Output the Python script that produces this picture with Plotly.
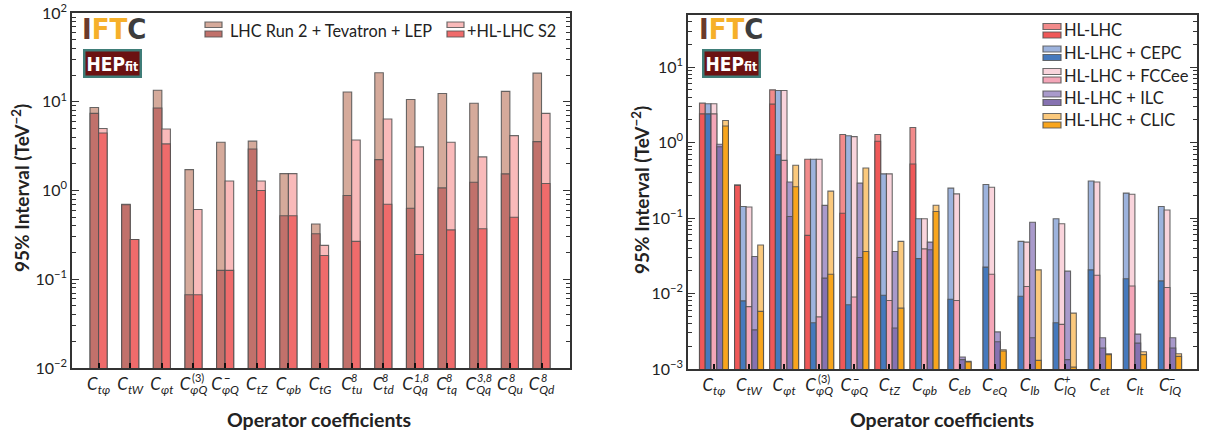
import plotly.graph_objects as go
from plotly.subplots import make_subplots

FONT = "Lato"

# ---------------- Left panel data ----------------
left_cats = ["Ctphi", "CtW", "Cphit", "CphiQ3", "CphiQm", "CtZ", "Cphib", "CtG",
             "Ctu8", "Ctd8", "CQq18", "Ctq8", "CQq38", "CQu8", "CQd8"]
left_sub = ["tφ", "tW", "φt", "φQ", "φQ", "tZ", "φb", "tG",
            "tu", "td", "Qq", "tq", "Qq", "Qu", "Qd"]
left_sup = ["", "", "", "(3)", "−", "", "", "", "8", "8", "1,8", "8", "3,8", "8", "8"]

lhc_light = [8.6, 0.70, 13.5, 1.72, 3.5, 3.6, 1.55, 0.42, 12.9, 21.2, 10.6, 12.4, 9.6, 13.1, 21.0]
lhc_dark = [7.4, 0.69, 8.5, 0.067, 0.126, 2.94, 0.52, 0.326, 0.88, 2.23, 0.63, 1.07, 1.24, 1.54, 3.55]
hls2_light = [5.0, 0.28, 4.93, 0.61, 1.28, 1.28, 1.55, 0.241, 3.7, 6.4, 3.1, 3.5, 2.39, 4.15, 7.4]
hls2_dark = [4.45, 0.28, 3.35, 0.067, 0.126, 1.0, 0.52, 0.185, 0.267, 0.70, 0.19, 0.36, 0.37, 0.50, 1.2]

# ---------------- Right panel data ----------------
right_cats = ["Ctphi", "CtW", "Cphit", "CphiQ3", "CphiQm", "CtZ", "Cphib",
              "Ceb", "CeQ", "Clb", "ClQp", "Cet", "Clt", "ClQm"]
right_sub = ["tφ", "tW", "φt", "φQ", "φQ", "tZ", "φb", "eb", "eQ", "lb", "lQ", "et", "lt", "lQ"]
right_sup = ["", "", "", "(3)", "−", "", "", "", "", "", "+", "", "", "−"]

hl_light = [3.33, 0.275, 4.99, 0.60, 1.28, 1.28, 1.58, None, None, None, None, None, None, None]
hl_dark = [2.4, 0.27, 3.23, 0.059, 0.116, 1.04, 0.52, None, None, None, None, None, None, None]
cepc_light = [3.26, 0.142, 4.9, 0.60, 1.23, 0.385, 0.098, 0.249, 0.278, 0.049, 0.098, 0.31, 0.214, 0.142]
cepc_dark = [2.4, 0.0080, 0.69, 0.0041, 0.0071, 0.0095, 0.029, 0.0084, 0.0224, 0.0092, 0.0041, 0.0206, 0.0157, 0.0147]
fcc_light = [3.26, 0.14, 4.9, 0.60, 1.2, 0.385, 0.098, 0.209, 0.256, 0.048, 0.084, 0.30, 0.207, 0.128]
fcc_dark = [2.4, 0.0067, 0.58, 0.0049, 0.0090, 0.0081, 0.039, 0.0081, 0.018, 0.0124, 0.0039, 0.0175, 0.0126, 0.0120]
ilc_light = [0.95, 0.031, 0.30, 0.147, 0.29, 0.036, 0.048, 0.00144, 0.0031, 0.088, 0.0198, 0.0026, 0.0029, 0.0026]
ilc_dark = [0.88, 0.0033, 0.105, 0.016, 0.030, 0.0035, 0.038, 0.00133, 0.0023, 0.0026, 0.00133, 0.0019, 0.0022, 0.0019]
clic_light = [1.96, 0.044, 0.50, 0.227, 0.46, 0.049, 0.148, 0.00126, 0.0018, 0.0206, 0.0055, 0.00159, 0.00169, 0.00159]
clic_dark = [1.66, 0.0058, 0.26, 0.018, 0.036, 0.0064, 0.122, 0.00124, 0.00173, 0.0013, 0.00106, 0.00155, 0.00155, 0.00147]

left_names = ["LHC Run 2 + Tevatron + LEP", "+HL-LHC S2"]
right_names = ["HL-LHC", "HL-LHC + CEPC", "HL-LHC + FCCee", "HL-LHC + ILC", "HL-LHC + CLIC"]

# y tick decades
left_decades = [-2, -1, 0, 1, 2]
right_decades = [-3, -2, -1, 0, 1]

left_colors = [("#d5aa9b", "#c1716b"), ("#f9baba", "#ef6b6b")]
right_colors = [("#f28b8b", "#ef5858"), ("#9db3dd", "#4579bd"), ("#f9d4dc", "#f4a6b8"),
                ("#a99acb", "#8672b1"), ("#fbc97d", "#f8a51d")]

OUTLINE = dict(color="rgba(80,80,80,0.85)", width=1.1)

fig = make_subplots(rows=1, cols=2)

# ---- left panel bars ----
LW = 0.27
left_series = [(lhc_light, lhc_dark), (hls2_light, hls2_dark)]
for k, (light, dark) in enumerate(left_series):
    off = -LW + k * LW
    for vals, col in ((light, left_colors[k][0]), (dark, left_colors[k][1])):
        fig.add_trace(go.Bar(x=left_cats, y=vals, width=LW, offset=off,
                             marker=dict(color=col, line=OUTLINE),
                             showlegend=False, hoverinfo="x+y"), row=1, col=1)

# ---- right panel bars ----
RW = 0.165
right_series = [(hl_light, hl_dark), (cepc_light, cepc_dark), (fcc_light, fcc_dark),
                (ilc_light, ilc_dark), (clic_light, clic_dark)]
n_present = [sum(1 for s in right_series if s[0][i] is not None) for i in range(len(right_cats))]
for k, (light, dark) in enumerate(right_series):
    offs = []
    for i in range(len(right_cats)):
        idx = sum(1 for s in right_series[:k] if s[0][i] is not None)
        offs.append(-n_present[i] * RW / 2 + idx * RW)
    for vals, col in ((light, right_colors[k][0]), (dark, right_colors[k][1])):
        fig.add_trace(go.Bar(x=right_cats, y=vals, width=RW, offset=offs,
                             marker=dict(color=col, line=OUTLINE),
                             showlegend=False, hoverinfo="x+y"), row=1, col=2)


def ctext(sub):
    return "<i>C</i><sub><i>%s</i></sub>" % sub


def dec_label(p):
    return "10<sup>%s</sup>" % (("−%d" % -p) if p < 0 else str(p))


def minor_vals(decs):
    out = []
    for p in decs:
        for m in range(2, 10):
            out.append(m * 10 ** p)
    return out


AXC = "#333333"
xcommon = dict(type="category", showgrid=False, zeroline=False, showline=True, linecolor=AXC,
               linewidth=1.5, mirror=True, ticks="inside", ticklen=5, tickwidth=1.5,
               tickcolor="#111", automargin=False,
               tickfont=dict(family=FONT, size=17, color="#222"))
ycommon = dict(type="log", showgrid=False, zeroline=False, showline=True, linecolor=AXC,
               linewidth=1.5, mirror="ticks", ticks="inside", ticklen=7, tickwidth=1.2,
               tickcolor="#333", tickmode="array", automargin=False,
               tickfont=dict(family=FONT, size=16, color="#222"))

fig.update_xaxes(xcommon, row=1, col=1)
fig.update_xaxes(xcommon, row=1, col=2)
fig.update_yaxes(ycommon, row=1, col=1)
fig.update_yaxes(ycommon, row=1, col=2)

fig.update_layout(
    xaxis=dict(domain=[72 / 1220, 570 / 1220], range=[-0.84, 14.9],
               tickvals=left_cats, ticktext=[ctext(s) for s in left_sub]),
    yaxis=dict(domain=[64 / 432, 419 / 432], range=[-2, 2],
               tickvals=[10 ** p for p in left_decades], ticktext=[dec_label(p) for p in left_decades],
               minor=dict(ticks="inside", ticklen=4, tickwidth=1, tickcolor="#333",
                          tickmode="array", tickvals=minor_vals(left_decades))),
    xaxis2=dict(domain=[688 / 1220, 1197 / 1220], range=[-0.74, 13.77],
                tickvals=right_cats, ticktext=[ctext(s) for s in right_sub]),
    yaxis2=dict(domain=[63 / 432, 417 / 432], range=[-3, 1.69],
                tickvals=[10 ** p for p in right_decades], ticktext=[dec_label(p) for p in right_decades],
                minor=dict(ticks="inside", ticklen=4, tickwidth=1, tickcolor="#333",
                           tickmode="array", tickvals=minor_vals(right_decades))),
)

ann = []
shapes = []

# superscripts above subscripts in tick labels
for cats, sups, xr, yr in ((left_cats, left_sup, "x", "y domain"), (right_cats, right_sup, "x2", "y2 domain")):
    for c, s in zip(cats, sups):
        if s:
            ann.append(dict(x=c, y=0, xref=xr, yref=yr, text="<i>%s</i>" % s if s[0] != "(" else s,
                            showarrow=False, xanchor="left", yanchor="top", xshift=-3, yshift=-1,
                            font=dict(family=FONT, size=11, color="#222")))

# axis titles
for xp, yp in ((21 / 1220, 1 - 188 / 432), (640 / 1220, 1 - 190 / 432)):
    ann.append(dict(x=xp, y=yp, xref="paper", yref="paper", text="<b>95% Interval (TeV<sup>−2</sup>)</b>",
                    textangle=-90, showarrow=False, xanchor="center", yanchor="middle",
                    font=dict(family=FONT, size=19, color="#222")))
for xp in (319 / 1220, 942 / 1220):
    ann.append(dict(x=xp, y=1 - 419 / 432, xref="paper", yref="paper", text="<b>Operator coefficients</b>",
                    showarrow=False, xanchor="center", yanchor="middle",
                    font=dict(family=FONT, size=19.5, color="#222")))

LOGOFONT = "Liberation Sans Narrow, DejaVu Sans Condensed, sans-serif"

# logos
def logo(xr, yr, x0, ybot, hx, hy):
    ann.append(dict(x=x0, y=ybot, xref=xr, yref=yr, showarrow=False, xanchor="left", yanchor="bottom",
                    text="<b><span style='color:#6b3a2a'>I</span><span style='color:#f6b02a'>FT</span>"
                         "<span style='color:#3d3d3d'>C</span></b>",
                    font=dict(family=LOGOFONT, size=29)))
    ann.append(dict(x=hx, y=hy, xref=xr, yref=yr, showarrow=False, xanchor="center", yanchor="middle",
                    text="<b>HEP<span style='font-size:12px'>fit</span></b>",
                    bgcolor="#6b1212", bordercolor="#3f7d78", borderwidth=2.5, borderpad=1,
                    font=dict(family=LOGOFONT, size=19, color="white")))

logo("x domain", "y domain", 0.016, 0.902, 0.082, 0.857)
logo("x2 domain", "y2 domain", 0.018, 0.906, 0.0864, 0.862)

# custom legends with double swatches
def legend_entry(xr, yr, x0, x1, yu0, yu1, yl0, yl1, colors, label, tx, ty, fs):
    shapes.append(dict(type="rect", xref=xr, yref=yr, x0=x0, x1=x1, y0=yu1, y1=yu0,
                       fillcolor=colors[0], line=dict(color="rgba(85,85,85,0.85)", width=1.2)))
    shapes.append(dict(type="rect", xref=xr, yref=yr, x0=x0, x1=x1, y0=yl1, y1=yl0,
                       fillcolor=colors[1], line=dict(color="rgba(85,85,85,0.85)", width=1.2)))
    ann.append(dict(x=tx, y=ty, xref=xr, yref=yr, text=label, showarrow=False, xanchor="left",
                    yanchor="middle", font=dict(family=FONT, size=fs, color="#222")))

def lx(px):
    return (px - 72) / 498

def ly(py):
    return 1 - (py - 13) / 355

for k, (sx0, tx) in enumerate(((205, 228), (447, 465))):
    legend_entry("x domain", "y domain", lx(sx0), lx(sx0 + 17), ly(22), ly(27.5), ly(31), ly(37),
                 left_colors[k], left_names[k], lx(tx), ly(30.5), 16.3)

def rx(px):
    return (px - 688) / 509

def ry(py):
    return 1 - (py - 15) / 354

for k in range(5):
    dy = 22.5 * k
    legend_entry("x2 domain", "y2 domain", rx(1043), rx(1061), ry(23.5 + dy), ry(29.5 + dy),
                 ry(32 + dy), ry(38 + dy), right_colors[k], right_names[k], rx(1062), ry(30.5 + dy), 16.5)

fig.update_layout(
    width=1220, height=432, barmode="overlay",
    margin=dict(l=0, r=0, t=0, b=0, autoexpand=False),
    paper_bgcolor="white", plot_bgcolor="white",
    annotations=ann, shapes=shapes, showlegend=False,
    font=dict(family=FONT, color="#222"),
)

fig.write_html("out.html", config={"displayModeBar": False},
               post_script="document.body.style.margin='0';document.body.style.overflow='hidden';")
